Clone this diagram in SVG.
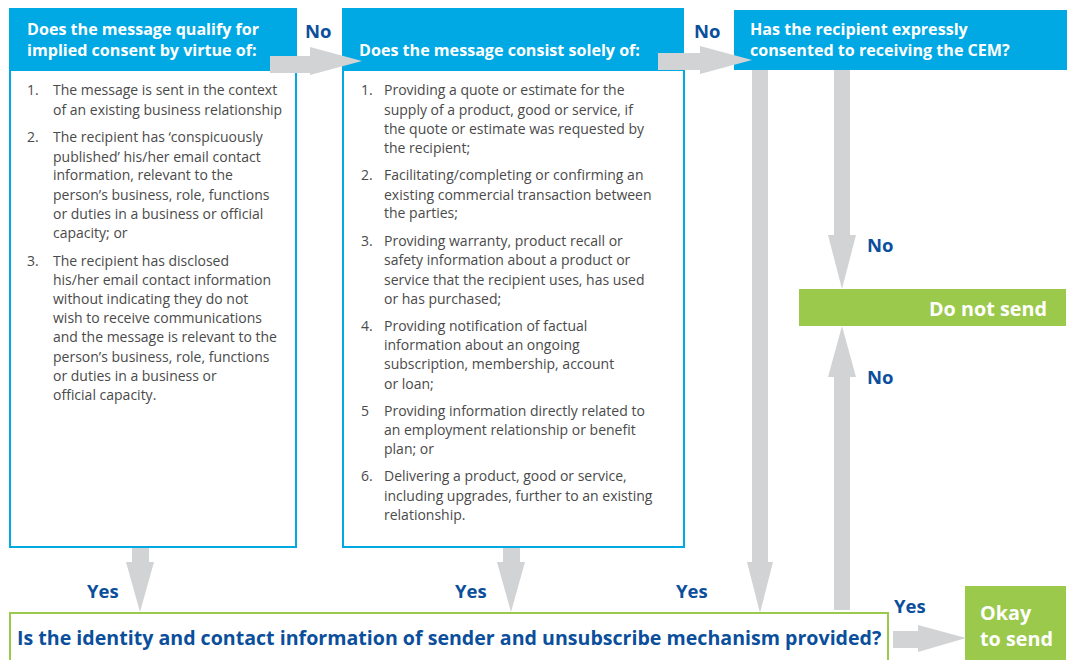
<svg xmlns="http://www.w3.org/2000/svg" width="1071" height="660" viewBox="0 0 1071 660">
<style>
.hdr{fill:#00a9e4}
.body{fill:#fff;stroke:#00a9e4;stroke-width:2}
.ht{font-family:"Open Sans","Noto Sans",sans-serif;font-weight:bold;font-size:16.1px;fill:#fff}
.bt{font-family:"Open Sans","Noto Sans",sans-serif;font-size:14px;fill:#4a4a4a}
.lbl{font-family:"Open Sans","Noto Sans",sans-serif;font-weight:bold;font-size:18.5px;fill:#0b4f9c}
.arr{fill:#d1d3d4}
.grn{fill:#9bc94b}
.gt{font-family:"Open Sans","Noto Sans",sans-serif;font-weight:bold;font-size:19.8px;fill:#fff}
.q{font-family:"Open Sans","Noto Sans",sans-serif;font-weight:bold;font-size:19.6px;fill:#0b4f9c}
</style>
<g id="node-q1">
<rect class="body" x="10" y="70" width="286" height="477"/>
<rect class="hdr" x="9" y="8" width="288" height="62"/>
<text class="ht" x="27" y="35">Does the message qualify for</text>
<text class="ht" x="27" y="56">implied consent by virtue of:</text>
<g class="bt">
<text x="27" y="95">1.</text>
<text x="53" y="95">The message is sent in the context</text>
<text x="53" y="115">of an existing business relationship</text>
<text x="27" y="142">2.</text>
<text x="53" y="142">The recipient has ‘conspicuously</text>
<text x="53" y="162">published’ his/her email contact</text>
<text x="53" y="180">information, relevant to the</text>
<text x="53" y="200">person’s business, role, functions</text>
<text x="53" y="219">or duties in a business or official</text>
<text x="53" y="238">capacity; or</text>
<text x="27" y="266">3.</text>
<text x="53" y="266">The recipient has disclosed</text>
<text x="53" y="285">his/her email contact information</text>
<text x="53" y="304">without indicating they do not</text>
<text x="53" y="323">wish to receive communications</text>
<text x="53" y="342">and the message is relevant to the</text>
<text x="53" y="362">person’s business, role, functions</text>
<text x="53" y="381">or duties in a business or</text>
<text x="53" y="400">official capacity.</text>
</g>
</g>
<g id="node-q2">
<rect class="body" x="343" y="70" width="341" height="477"/>
<rect class="hdr" x="342" y="8" width="342" height="62"/>
<text class="ht" x="359" y="56">Does the message consist solely of:</text>
<g class="bt">
<text x="361" y="95">1.</text>
<text x="384" y="95">Providing a quote or estimate for the</text>
<text x="384" y="115">supply of a product, good or service, if</text>
<text x="384" y="134">the quote or estimate was requested by</text>
<text x="384" y="153">the recipient;</text>
<text x="361" y="180">2.</text>
<text x="384" y="180">Facilitating/completing or confirming an</text>
<text x="384" y="200">existing commercial transaction between</text>
<text x="384" y="218">the parties;</text>
<text x="361" y="246">3.</text>
<text x="384" y="246">Providing warranty, product recall or</text>
<text x="384" y="265">safety information about a product or</text>
<text x="384" y="285">service that the recipient uses, has used</text>
<text x="384" y="304">or has purchased;</text>
<text x="361" y="331">4.</text>
<text x="384" y="331">Providing notification of factual</text>
<text x="384" y="350">information about an ongoing</text>
<text x="384" y="369">subscription, membership, account</text>
<text x="384" y="389">or loan;</text>
<text x="361" y="416">5</text>
<text x="384" y="416">Providing information directly related to</text>
<text x="384" y="435">an employment relationship or benefit</text>
<text x="384" y="454">plan; or</text>
<text x="361" y="481">6.</text>
<text x="384" y="481">Delivering a product, good or service,</text>
<text x="384" y="501">including upgrades, further to an existing</text>
<text x="384" y="520">relationship.</text>
</g>
</g>
<g id="node-q3">
<rect class="hdr" x="734" y="10" width="333" height="60"/>
<text class="ht" x="750" y="35">Has the recipient expressly</text>
<text class="ht" x="750" y="56">consented to receiving the CEM?</text>
</g>
<g id="node-donotsend">
<rect class="grn" x="799" y="289" width="267" height="37"/>
<text class="gt" x="1047" y="316" text-anchor="end">Do not send</text>
</g>
<g id="node-q4">
<rect x="10" y="613" width="878" height="50" fill="#fff" stroke="#9bc94b" stroke-width="2"/>
<text class="q" x="17" y="645">Is the identity and contact information of sender and unsubscribe mechanism provided?</text>
</g>
<g id="node-okay">
<rect class="grn" x="965" y="586" width="101" height="74"/>
<text class="gt" x="980" y="620">Okay</text>
<text class="gt" x="980" y="646">to send</text>
</g>
<g id="connectors">
<polygon class="arr" points="270,56 310,56 310,47 362,61 310,75 310,73 270,73"/>
<polygon class="arr" points="658,53 700,53 700,46 752,60 700,74 700,70 658,70"/>
<polygon class="arr" points="752,70 768,70 768,562 773,562 760,613 747,562 752,562"/>
<polygon class="arr" points="834,70 850,70 850,235 856,235 842,289 828,235 834,235"/>
<polygon class="arr" points="834,610 850,610 850,377 856,377 842,326 828,377 834,377"/>
<polygon class="arr" points="132,548 149,548 149,562 154,562 140,612 126,562 132,562"/>
<polygon class="arr" points="503,548 520,548 520,562 525,562 511,612 497,562 503,562"/>
<polygon class="arr" points="893,631 918,631 918,625 966,638 918,652 918,648 893,648"/>
</g>
<g id="labels">
<text class="lbl" x="305" y="38">No</text>
<text class="lbl" x="694" y="38">No</text>
<text class="lbl" x="867" y="252">No</text>
<text class="lbl" x="867" y="384">No</text>
<text class="lbl" x="87" y="598">Yes</text>
<text class="lbl" x="455" y="598">Yes</text>
<text class="lbl" x="676" y="598">Yes</text>
<text class="lbl" x="894" y="613">Yes</text>
</g>
</svg>
